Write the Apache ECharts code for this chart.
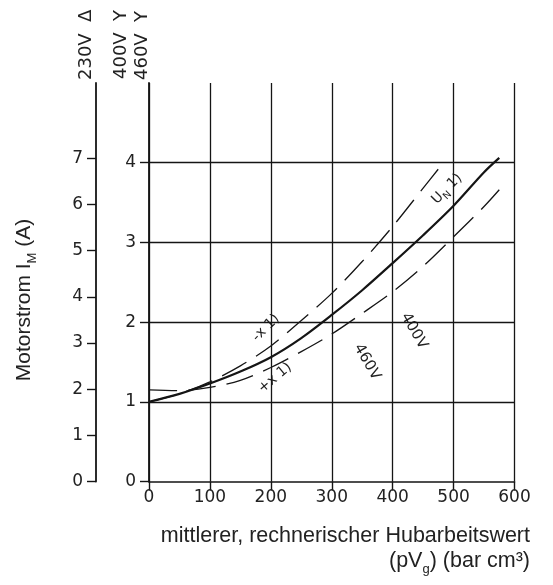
<!DOCTYPE html>
<html>
<head>
<meta charset="utf-8">
<script src="https://cdn.jsdelivr.net/npm/echarts@6/dist/echarts.min.js"></script>
<style>html,body{margin:0;padding:0;background:#fff}#c{width:553px;height:585px}</style>
</head>
<body>
<div id="c"></div>
<script>
// X values (mittlerer Hubarbeitswert, bar cm3)
const xTicks = [0, 100, 200, 300, 400, 500, 600];
const innerTicks = [0, 1, 2, 3, 4];          // 400V / 460V current scale
const outerTicks = [0, 1, 2, 3, 4, 5, 6, 7]; // 230V current scale
const gridY = [1, 2, 3, 4];

// U_N curve (solid)
const unX = [0, 50, 100, 150, 200, 250, 300, 350, 400, 450, 500, 550, 575];
const unY = [1.0, 1.1, 1.23, 1.38, 1.56, 1.8, 2.09, 2.4, 2.74, 3.09, 3.46, 3.88, 4.06];
// -x curve (upper dashed)
const mxX = [0, 50, 100, 150, 200, 250, 300, 350, 400, 450, 475];
const mxY = [1.0, 1.1, 1.25, 1.45, 1.7, 2.02, 2.36, 2.76, 3.2, 3.68, 3.92];
// +x curve (lower dashed)
const pxX = [0, 50, 100, 150, 200, 250, 300, 350, 400, 450, 500, 550, 575];
const pxY = [1.15, 1.14, 1.18, 1.27, 1.43, 1.63, 1.85, 2.11, 2.38, 2.70, 3.07, 3.45, 3.66];

const zip = (a, b) => a.map((v, i) => [v, b[i]]);
const INK = '#151515';
const NUMFONT = 'DejaVu Sans';
const TXTFONT = 'Liberation Sans';

const chart = echarts.init(document.getElementById('c'), null, {renderer: 'canvas'});
chart.setOption({
  backgroundColor: '#fff',
  animation: false,
  grid: {left: 149, right: 38.5, top: 83, bottom: 103.5, containLabel: false},
  xAxis: {
    type: 'value', min: 0, max: 600, interval: 100,
    axisLine: {show: true, onZero: false, lineStyle: {color: INK, width: 1.6}},
    axisTick: {show: true, inside: false, length: 9, lineStyle: {color: INK, width: 1.4}},
    axisLabel: {show: true, margin: 8, color: '#222', fontFamily: NUMFONT, fontSize: 17,
      customValues: xTicks},
    splitLine: {show: true, lineStyle: {color: INK, width: 1.3}}
  },
  yAxis: [
    {
      type: 'value', min: 0, max: 5, interval: 1, position: 'left',
      axisLine: {show: true, onZero: false, lineStyle: {color: INK, width: 1.8}},
      axisTick: {show: true, inside: false, length: 9, lineStyle: {color: INK, width: 1.4},
        customValues: innerTicks},
      axisLabel: {show: true, margin: 13, color: '#222', fontFamily: NUMFONT, fontSize: 17,
        customValues: innerTicks},
      splitLine: {show: false}
    },
    {
      type: 'value', min: 0, max: 8.63, interval: 1, position: 'left', offset: 53,
      axisLine: {show: true, onZero: false, lineStyle: {color: INK, width: 1.8}},
      axisTick: {show: true, inside: false, length: 9, lineStyle: {color: INK, width: 1.4},
        customValues: outerTicks},
      axisLabel: {show: true, margin: 13, color: '#222', fontFamily: NUMFONT, fontSize: 17,
        customValues: outerTicks},
      splitLine: {show: false}
    }
  ],
  series: [
    {
      type: 'line', name: 'UN', data: zip(unX, unY), yAxisIndex: 0,
      smooth: 0.3, showSymbol: false, symbol: 'none',
      lineStyle: {color: INK, width: 2.2},
      markLine: {
        silent: true, symbol: 'none', label: {show: false},
        lineStyle: {type: 'solid', color: INK, width: 1.3},
        data: gridY.map(v => ({yAxis: v}))
      },
      z: 3
    },
    {
      type: 'line', name: '-x', data: zip(mxX, mxY), yAxisIndex: 0,
      smooth: 0.3, showSymbol: false, symbol: 'none',
      lineStyle: {color: INK, width: 1.3, type: [28, 11]}
    },
    {
      type: 'line', name: '+x', data: zip(pxX, pxY), yAxisIndex: 0,
      smooth: 0.3, showSymbol: false, symbol: 'none',
      lineStyle: {color: INK, width: 1.3, type: [28, 11]}
    }
  ],
  graphic: [
    // top voltage labels (rotated)
    {type: 'text', x: 86, y: 80, rotation: Math.PI / 2,
      style: {text: '230V  Δ', font: '18px "DejaVu Sans"', fill: '#222', textAlign: 'left', textVerticalAlign: 'middle'}},
    {type: 'text', x: 121, y: 79, rotation: Math.PI / 2,
      style: {text: '400V  Y', font: '18px "DejaVu Sans"', fill: '#222', textAlign: 'left', textVerticalAlign: 'middle'}},
    {type: 'text', x: 142, y: 80, rotation: Math.PI / 2,
      style: {text: '460V  Y', font: '18px "DejaVu Sans"', fill: '#222', textAlign: 'left', textVerticalAlign: 'middle'}},
    // y axis title
    {type: 'text', x: 24, y: 300, rotation: Math.PI / 2,
      style: {
        text: '{a|Motorstrom I}{s|M}{a| (A)}',
        textAlign: 'center', textVerticalAlign: 'middle',
        rich: {
          a: {fontFamily: TXTFONT, fontSize: 21, lineHeight: 30, fill: '#222', color: '#222'},
          s: {fontFamily: TXTFONT, fontSize: 13, lineHeight: 13, verticalAlign: 'bottom', fill: '#222', color: '#222'}
        }
      }},
    // x axis title
    {type: 'text', x: 530, y: 536,
      style: {text: 'mittlerer, rechnerischer Hubarbeitswert', font: '21.5px "Liberation Sans"', fill: '#222',
        textAlign: 'right', textVerticalAlign: 'middle'}},
    {type: 'text', x: 530, y: 561,
      style: {
        text: '{a|(pV}{s|g}{a|) (bar cm³)}',
        textAlign: 'right', textVerticalAlign: 'middle',
        rich: {
          a: {fontFamily: TXTFONT, fontSize: 21.5, lineHeight: 30, fill: '#222', color: '#222'},
          s: {fontFamily: TXTFONT, fontSize: 13, lineHeight: 13, verticalAlign: 'bottom', fill: '#222', color: '#222'}
        }
      }},
    // curve labels
    {type: 'text', x: 447, y: 189, rotation: Math.PI / 4,
      style: {
        text: '{a|U}{s|N}{a| 1)}',
        textAlign: 'center', textVerticalAlign: 'middle',
        rich: {
          a: {fontFamily: NUMFONT, fontSize: 14, lineHeight: 20, fill: '#222', color: '#222'},
          s: {fontFamily: NUMFONT, fontSize: 10, lineHeight: 10, verticalAlign: 'bottom', fill: '#222', color: '#222'}
        }
      }},
    {type: 'text', x: 266, y: 328, rotation: 0.78,
      style: {text: '-x 1)', font: '14px "DejaVu Sans"', fill: '#222', textAlign: 'center', textVerticalAlign: 'middle'}},
    {type: 'text', x: 275, y: 378, rotation: 0.7,
      style: {text: '+x 1)', font: '14px "DejaVu Sans"', fill: '#222', textAlign: 'center', textVerticalAlign: 'middle'}},
    {type: 'text', x: 367, y: 362, rotation: -1.05,
      style: {text: '460V', font: '15px "DejaVu Sans"', fill: '#222', textAlign: 'center', textVerticalAlign: 'middle'}},
    {type: 'text', x: 414, y: 331, rotation: -1.05,
      style: {text: '400V', font: '15px "DejaVu Sans"', fill: '#222', textAlign: 'center', textVerticalAlign: 'middle'}}
  ]
});
</script>
</body>
</html>
